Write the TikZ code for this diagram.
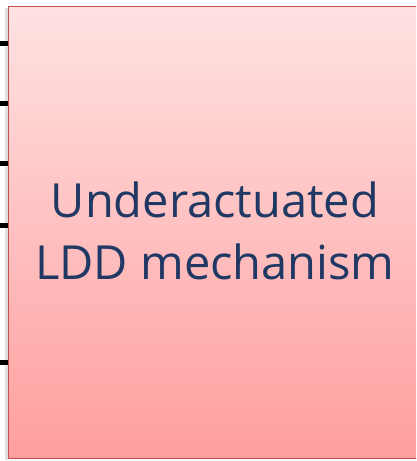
\documentclass[tikz,border=0pt]{standalone}
\usepackage{fontspec}
\newfontfamily\boxfont{Open Sans}
\definecolor{boxtop}{RGB}{255, 226, 226}
\definecolor{boxbot}{RGB}{255, 158, 158}
\definecolor{boxedge}{RGB}{196, 80, 80}
\definecolor{txtblue}{RGB}{31, 56, 100}
\usetikzlibrary{positioning}

\begin{document}
\begin{tikzpicture}[
    x=1pt, y=-1pt,
    block/.style={
      draw=boxedge, line width=1.2pt,
      top color=boxtop, bottom color=boxbot,
      minimum width=414pt, minimum height=452pt,
      inner sep=0pt, anchor=north west
    },
    label/.style={
      text=txtblue, font=\boxfont\fontsize{47}{62}\selectfont,
      align=center
    },
    tick/.style={line width=5pt, black}
  ]
    \useasboundingbox (0,0) rectangle (416,461);
    \clip (0,0) rectangle (416,461);
    % soft shadow on the left edge
    \fill[black!12] (5,8) rectangle (8,460);
    \node[block] (ldd) at (8,6) {};
    \node[label] (name) at (215,231) {Underactuated\\LDD mechanism};

    % inputs coming in from the left
    \foreach \yy/\nm in {43/a, 103/b, 163/c, 225/d, 362/e} {
      \coordinate (in\nm) at (0,\yy);
      \draw[tick] (in\nm) -- (ldd.west |- in\nm);
    }
  \end{tikzpicture}
\end{document}
